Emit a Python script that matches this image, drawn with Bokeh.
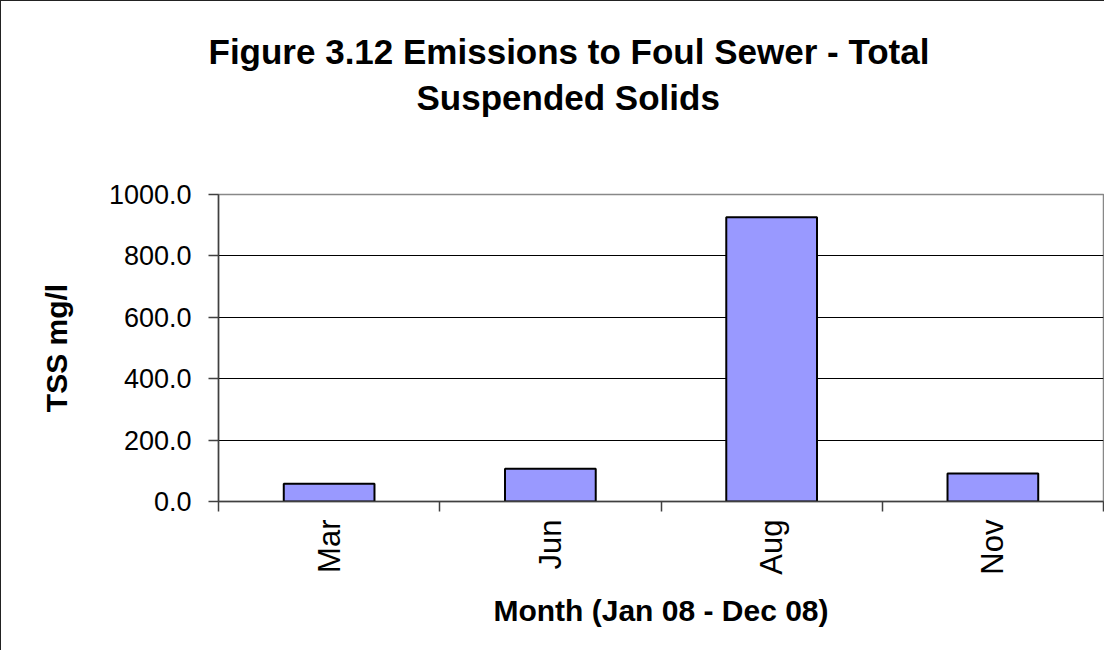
import math
from bokeh.plotting import figure
from bokeh.models import (FactorRange, Range1d, LinearAxis, FixedTicker,
                          PrintfTickFormatter, Title, ColumnDataSource)
from bokeh.embed import file_html
from bokeh.resources import INLINE

# ---- data ----
months = ["Mar", "Jun", "Aug", "Nov"]
tss = [58.0, 107.0, 926.0, 91.0]
y_ticks = [0, 200, 400, 600, 800, 1000]
title_lines = ["Figure 3.12 Emissions to Foul Sewer - Total", "Suspended Solids"]
x_label = "Month (Jan 08 - Dec 08)"
y_label = "TSS mg/l"

FONT = "Liberation Sans"
FRAME_W, FRAME_H = 885, 307
Y_MAX = 1000

src = ColumnDataSource(dict(month=months, tss=tss))

p = figure(x_range=FactorRange(*months), y_range=Range1d(0, Y_MAX),
           frame_width=FRAME_W, frame_height=FRAME_H,
           output_backend="svg", toolbar_location=None, x_axis_type=None,
           min_border_left=217, min_border_right=1,
           min_border_top=193, min_border_bottom=149,
           background_fill_color="white", border_fill_color="white",
           outline_line_color="#888888", outline_line_width=1.5)
p.styles = {"border-left": "1px solid #222", "border-top": "1px solid #222"}

p.vbar(x="month", top="tss", width=0.41, source=src,
       fill_color="#9999FF", line_color="black", line_width=2)

# x axis with ticks on category boundaries
n = len(months)
xaxis = LinearAxis(
    ticker=FixedTicker(ticks=[i + 0.5 for i in range(n)],
                       minor_ticks=list(range(n + 1))),
    major_label_overrides={i + 0.5: m for i, m in enumerate(months)},
    major_label_orientation=math.pi / 2,
    major_tick_line_color=None, major_tick_out=0, major_tick_in=0,
    minor_tick_out=10, minor_tick_in=0, minor_tick_line_color="#404040",
    minor_tick_line_width=1.5,
    axis_line_color="#404040", axis_line_width=1.5,
    major_label_standoff=8,
    major_label_text_font=FONT, major_label_text_font_size="31px",
    major_label_text_color="black",
    axis_label=x_label, axis_label_text_font=FONT,
    axis_label_text_font_size="30px", axis_label_text_font_style="bold",
    axis_label_text_color="black", axis_label_standoff=16,
)
p.add_layout(xaxis, "below")

ya = p.yaxis[0]
ya.ticker = FixedTicker(ticks=y_ticks)
ya.formatter = PrintfTickFormatter(format="%.1f")
ya.major_tick_out = 10
ya.major_tick_in = 0
ya.minor_tick_line_color = None
ya.major_tick_line_color = "#404040"
ya.major_tick_line_width = 1.5
ya.axis_line_color = "#404040"
ya.axis_line_width = 1.5
ya.major_label_standoff = 17
ya.major_label_text_font = FONT
ya.major_label_text_font_size = "27px"
ya.major_label_text_color = "black"
ya.axis_label = y_label
ya.axis_label_text_font = FONT
ya.axis_label_text_font_size = "30px"
ya.axis_label_text_font_style = "bold"
ya.axis_label_text_color = "black"
ya.axis_label_standoff = 33

p.ygrid.ticker = FixedTicker(ticks=y_ticks)
p.ygrid.grid_line_color = "black"
p.ygrid.grid_line_width = 1

# title: a blank spacer next to the frame, then line 2, then line 1
p.add_layout(Title(text=" ", standoff=34, text_font=FONT,
                   text_font_size="35px"), "above")
for line, standoff, offset in zip(reversed(title_lines), [6, 4], [198, -10]):
    p.add_layout(Title(text=line, align="left", offset=offset, standoff=standoff,
                       text_font=FONT, text_font_size="35px",
                       text_font_style="bold", text_color="black"), "above")

open("out.html", "w").write(file_html(p, INLINE))
